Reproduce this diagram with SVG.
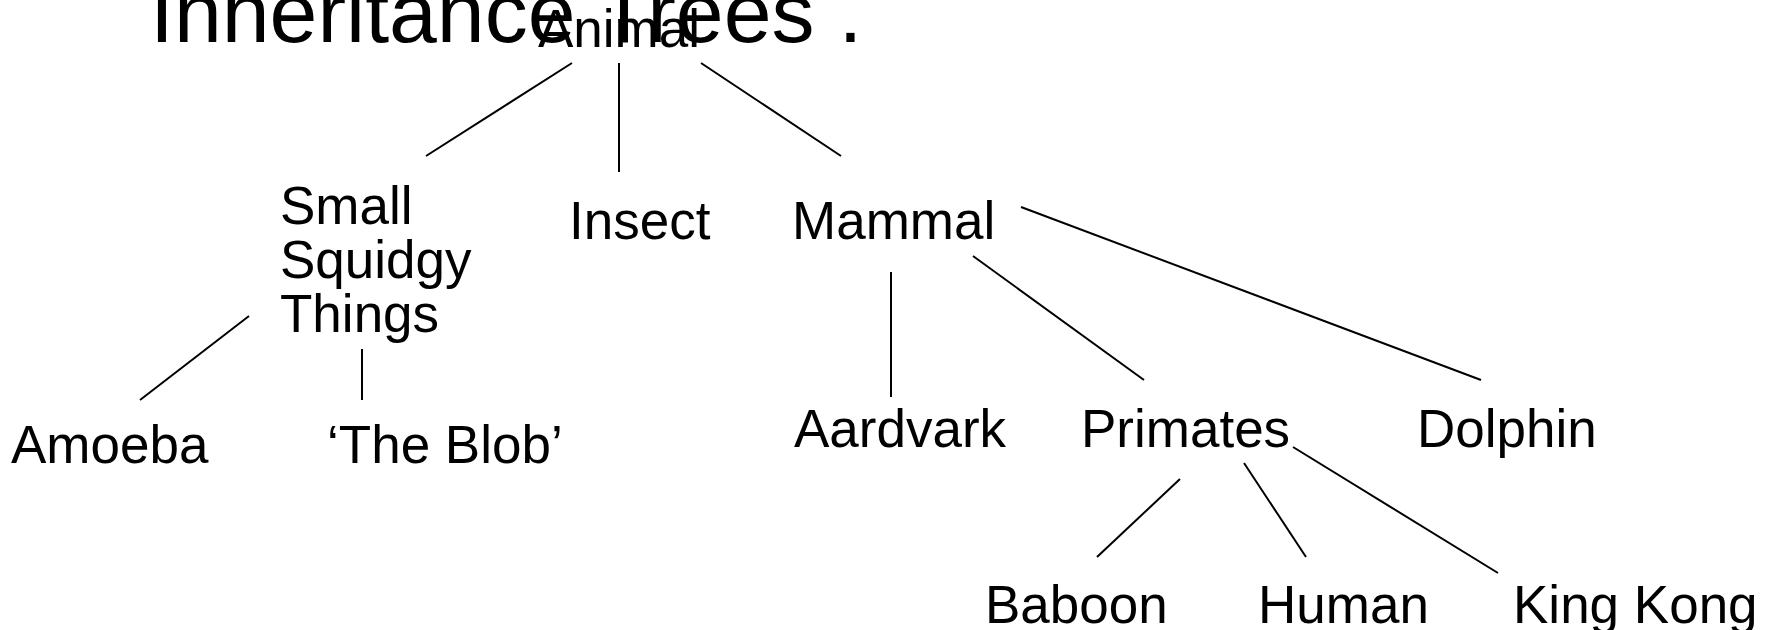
<svg xmlns="http://www.w3.org/2000/svg" width="1775" height="630" viewBox="0 0 1775 630">
  <style>
    .title { font-family: "Liberation Sans", Arial, sans-serif; font-size: 86px; fill: #000; }
    .label { font-family: "Liberation Sans", Arial, sans-serif; font-size: 53px; fill: #000; }
    .edge { stroke: #000; stroke-width: 2; fill: none; }
  </style>
  <rect width="1775" height="630" fill="#fff"/>

  <text class="title" x="150" y="42">Inheritance Trees .</text>

  <g id="connectors">
    <line class="edge" x1="572" y1="63" x2="426" y2="156"/>
    <line class="edge" x1="619" y1="63" x2="619" y2="172"/>
    <line class="edge" x1="701" y1="63" x2="841" y2="156"/>
    <line class="edge" x1="249" y1="316" x2="140" y2="400"/>
    <line class="edge" x1="362" y1="349" x2="362" y2="400"/>
    <line class="edge" x1="891" y1="272" x2="891" y2="397"/>
    <line class="edge" x1="973" y1="256" x2="1144" y2="380"/>
    <line class="edge" x1="1021" y1="207" x2="1481" y2="380"/>
    <line class="edge" x1="1180" y1="479" x2="1097" y2="557"/>
    <line class="edge" x1="1244" y1="463" x2="1306" y2="557"/>
    <line class="edge" x1="1293" y1="447" x2="1498" y2="573"/>
  </g>

  <g id="animal"><text class="label" x="538" y="47">Animal</text></g>
  <g id="small-squidgy-things">
    <text class="label" x="280" y="224">Small</text>
    <text class="label" x="280" y="278">Squidgy</text>
    <text class="label" x="280" y="332">Things</text>
  </g>
  <g id="insect"><text class="label" x="569" y="239">Insect</text></g>
  <g id="mammal"><text class="label" x="792" y="239">Mammal</text></g>
  <g id="amoeba"><text class="label" x="11" y="463">Amoeba</text></g>
  <g id="the-blob"><text class="label" x="327" y="463">‘The Blob’</text></g>
  <g id="aardvark"><text class="label" x="794" y="447">Aardvark</text></g>
  <g id="primates"><text class="label" x="1081" y="447">Primates</text></g>
  <g id="dolphin"><text class="label" x="1417" y="447">Dolphin</text></g>
  <g id="baboon"><text class="label" x="985" y="623">Baboon</text></g>
  <g id="human"><text class="label" x="1258" y="623">Human</text></g>
  <g id="king-kong"><text class="label" x="1513" y="623">King Kong</text></g>
</svg>
